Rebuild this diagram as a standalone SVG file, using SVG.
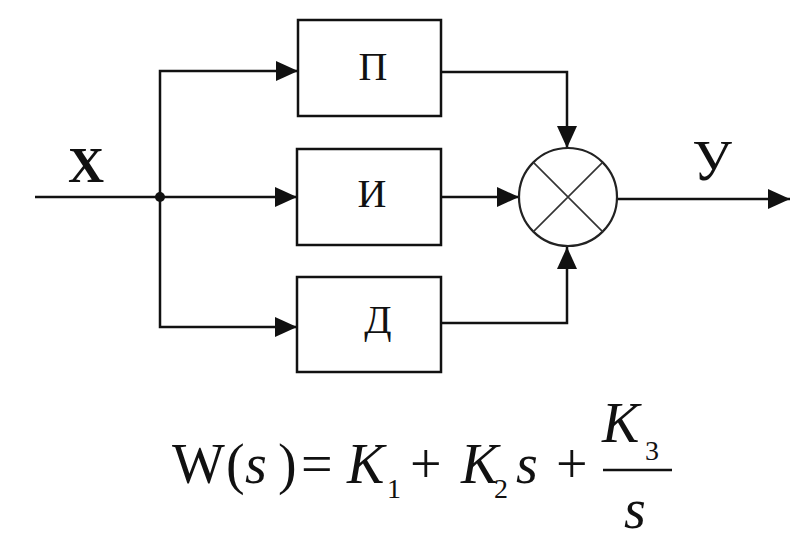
<svg xmlns="http://www.w3.org/2000/svg" width="800" height="543" viewBox="0 0 800 543">
<defs>
<marker id="arr" viewBox="0 0 22 20" refX="22" refY="10" markerWidth="22" markerHeight="20" markerUnits="userSpaceOnUse" orient="auto">
<path d="M0,0 L22,10 L0,20 z" fill="#111"/>
</marker>
</defs>
<rect width="800" height="543" fill="#fff"/>
<g id="connectors" fill="none" stroke="#111" stroke-width="2.5">
<path d="M35,197 H297" marker-end="url(#arr)"/>
<path d="M160,197 V71 H298" marker-end="url(#arr)"/>
<path d="M160,197 V327 H297" marker-end="url(#arr)"/>
<path d="M441,72 H567 V148" marker-end="url(#arr)"/>
<path d="M441,197 H519" marker-end="url(#arr)"/>
<path d="M441,323 H567 V247" marker-end="url(#arr)"/>
<path d="M618,199 H790" marker-end="url(#arr)"/>
<circle cx="160" cy="197" r="5" fill="#111" stroke="none"/>
</g>
<g id="input-label"><text font-family="Liberation Serif" text-anchor="middle" fill="#111" x="86" y="182" font-size="50" font-weight="bold">X</text></g>
<g id="output-label"><text font-family="Liberation Serif" text-anchor="middle" fill="#111" x="712" y="180" font-size="56">У</text></g>
<g id="node-P">
<rect x="298" y="20" width="143" height="96" fill="#fff" stroke="#111" stroke-width="2.5"/>
<text font-family="Liberation Serif" text-anchor="middle" fill="#111" x="373" y="80" font-size="40">П</text>
</g>
<g id="node-I">
<rect x="297" y="149" width="144" height="96" fill="#fff" stroke="#111" stroke-width="2.5"/>
<text font-family="Liberation Serif" text-anchor="middle" fill="#111" x="372" y="207" font-size="40">И</text>
</g>
<g id="node-D">
<rect x="297" y="277" width="144" height="95" fill="#fff" stroke="#111" stroke-width="2.5"/>
<text font-family="Liberation Serif" text-anchor="middle" fill="#111" x="378" y="333" font-size="40">Д</text>
</g>
<g id="summator">
<circle cx="568" cy="197" r="49" fill="#fff" stroke="#222" stroke-width="2.2"/>
<path d="M533.4,162.4 L602.6,231.6 M602.6,162.4 L533.4,231.6" stroke="#333" stroke-width="1.6" fill="none"/>
</g>
<g id="formula" fill="#111">
<text font-family="Liberation Serif" font-size="56" y="483"><tspan x="172">W</tspan><tspan x="226">(</tspan><tspan x="245" font-style="italic">s</tspan><tspan x="278">)</tspan><tspan x="301">=</tspan><tspan x="347" font-style="italic">K</tspan><tspan x="387" y="498" font-size="28">1</tspan><tspan x="410" y="483">+</tspan><tspan x="461" font-style="italic">K</tspan><tspan x="494" y="498" font-size="28">2</tspan><tspan x="516" y="483" font-style="italic">s</tspan><tspan x="556">+</tspan></text>
<text font-family="Liberation Serif" font-size="56" y="442"><tspan x="602" font-style="italic">K</tspan><tspan x="645" y="460" font-size="28">3</tspan></text>
<line x1="603" y1="470" x2="672" y2="470" stroke="#111" stroke-width="2.5"/>
<text font-family="Liberation Serif" font-size="56" font-style="italic" x="624" y="528">s</text>
</g>
</svg>
